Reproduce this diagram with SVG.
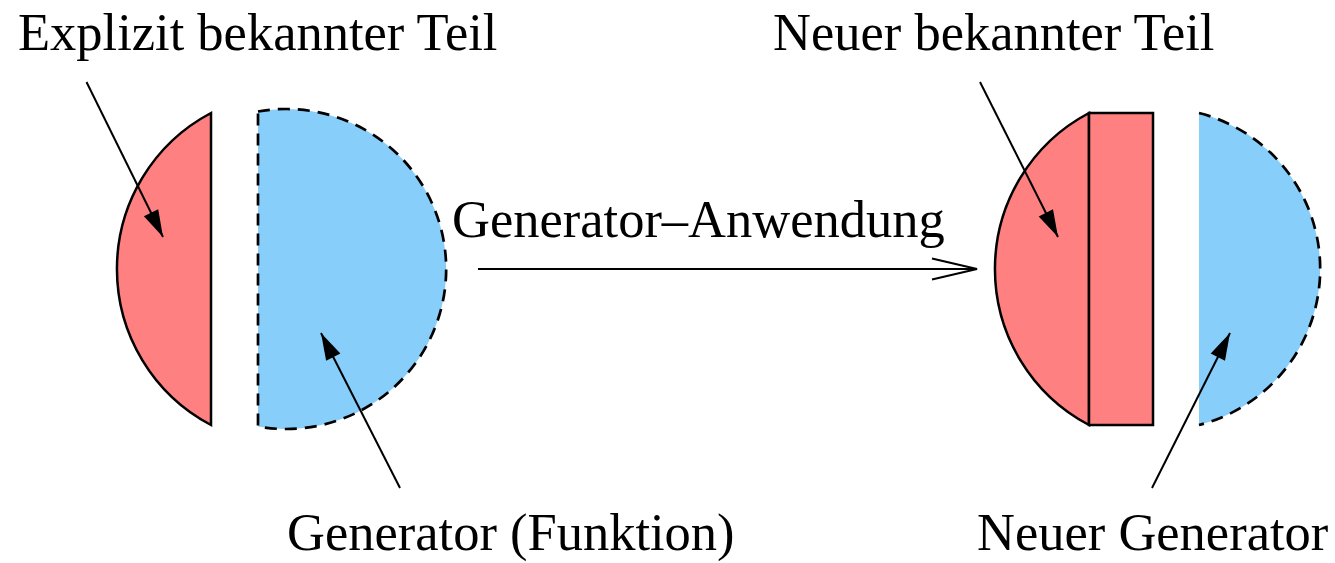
<svg xmlns="http://www.w3.org/2000/svg" width="1335" height="563" viewBox="0 0 1335 563">
  <style>
    .lbl { font-family: "Liberation Serif", "Times New Roman", serif; font-size: 52.5px; fill: #000; }
    .red { fill: #ff8080; stroke: #000; stroke-width: 2.5; stroke-linejoin: miter; }
    .blue { fill: #87cefa; stroke: none; }
    .dash { fill: none; stroke: #000; stroke-width: 2.7; stroke-dasharray: 12 8; }
    .ptr { fill: none; stroke: #000; stroke-width: 2; }
  </style>
  <defs>
    <marker id="solidHead" markerUnits="userSpaceOnUse" markerWidth="30" markerHeight="20" viewBox="-28 -9 30 18" refX="0" refY="0" orient="auto">
      <path d="M0,0 L-27,-8 L-27,8 Z" fill="#000"/>
    </marker>
  </defs>

  <g id="explicit-part">
    <path class="red" d="M211,113 A176.4,176.4 0 0 0 211,425 Z"/>
  </g>
  <g id="generator">
    <path class="blue" d="M258,111.5 A160,160 0 1 1 258,426.5 Z"/>
    <path class="dash" d="M258,111.5 A160,160 0 1 1 258,426.5 Z"/>
  </g>
  <g id="new-known-part">
    <path class="red" d="M1089,113 A176.4,176.4 0 0 0 1089,425 Z"/>
    <rect class="red" x="1089" y="113" width="64" height="312"/>
  </g>
  <g id="new-generator">
    <path class="blue" d="M1199,113 A161,161 0 0 1 1199,425 Z"/>
    <path class="dash" d="M1199,113 A161,161 0 0 1 1199,425"/>
  </g>

  <g id="labels">
    <text class="lbl" x="18" y="50">Explizit bekannter Teil</text>
    <text class="lbl" x="773" y="50">Neuer bekannter Teil</text>
    <text class="lbl" x="452" y="237">Generator–Anwendung</text>
    <text class="lbl" x="287" y="550">Generator (Funktion)</text>
    <text class="lbl" x="977" y="550">Neuer Generator</text>
  </g>

  <g id="connectors">
    <line class="ptr" x1="86.5" y1="82" x2="163" y2="237" marker-end="url(#solidHead)"/>
    <line class="ptr" x1="400" y1="488" x2="321" y2="333" marker-end="url(#solidHead)"/>
    <line class="ptr" x1="980" y1="82" x2="1058" y2="237" marker-end="url(#solidHead)"/>
    <line class="ptr" x1="1152" y1="488" x2="1230" y2="333" marker-end="url(#solidHead)"/>
    <line class="ptr" x1="478" y1="269" x2="976" y2="269"/>
    <polyline class="ptr" points="932,258.5 977,269 932,279.5"/>
  </g>
</svg>
